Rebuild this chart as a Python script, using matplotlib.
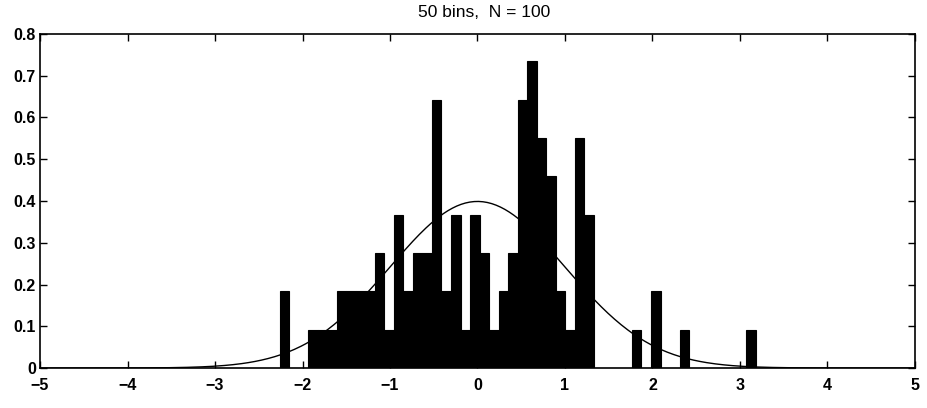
import numpy as np
import matplotlib
matplotlib.use('Agg')
import matplotlib.pyplot as plt

# histogram: 50 bins, N = 100
n_samples = 100
first_center = -2.208
last_center = 3.126
counts = [2, 0, 0, 1, 1, 1, 2, 2, 2, 2,
          3, 1, 4, 2, 3, 3, 7, 2, 4, 1,
          4, 3, 1, 2, 3, 7, 8, 6, 5, 2,
          1, 6, 4, 0, 0, 0, 0, 1, 0, 2,
          0, 0, 1, 0, 0, 0, 0, 0, 0, 1]

x_ticks = [-5, -4, -3, -2, -1, 0, 1, 2, 3, 4, 5]
y_ticks = [0, 0.1, 0.2, 0.3, 0.4, 0.5, 0.6, 0.7, 0.8]
y_labels = ['0', '0.1', '0.2', '0.3', '0.4', '0.5', '0.6', '0.7', '0.8']

plt.rcParams['font.family'] = ['Liberation Sans', 'DejaVu Sans']

nbins = len(counts)
centers = np.linspace(first_center, last_center, nbins)
width = (last_center - first_center) / (nbins - 1)
density = np.array(counts) / (n_samples * width)

fig = plt.figure(figsize=(9.27, 4.08), dpi=100)
ax = fig.add_axes([0.0432, 0.098, 0.9438, 0.8187])

ax.bar(centers, density, width=width, color='black', edgecolor='black', linewidth=0.8)

xs = np.linspace(-5, 5, 400)
ax.plot(xs, np.exp(-xs ** 2 / 2) / np.sqrt(2 * np.pi), color='black', linewidth=1.0)

ax.set_xlim(-5, 5)
ax.set_ylim(0, 0.8)
ax.set_xticks(x_ticks)
ax.set_xticklabels(['\u2212%d' % -t if t < 0 else '%d' % t for t in x_ticks])
ax.set_yticks(y_ticks)
ax.set_yticklabels(y_labels)
ax.tick_params(direction='in', top=True, right=True, length=5, width=1,
               labelsize=11.5)
ax.tick_params(axis='x', pad=7)
ax.tick_params(axis='y', pad=3)
for lab in ax.get_xticklabels() + ax.get_yticklabels():
    lab.set_fontweight('bold')
for sp in ax.spines.values():
    sp.set_linewidth(1.2)

fig.text(484 / 927, 1 - 12.5 / 408, '50 bins,  N = 100', fontsize=12.5,
         ha='center', va='center')

fig.savefig('out.png', dpi=100)
